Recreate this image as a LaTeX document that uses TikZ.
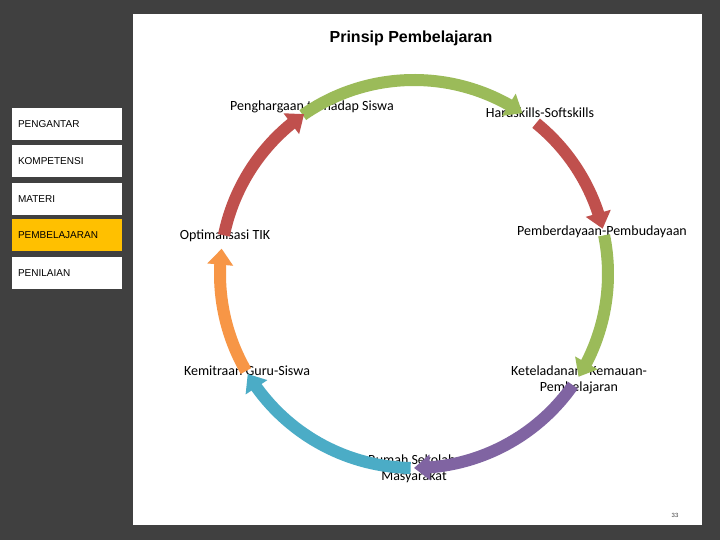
\documentclass[tikz,border=0pt]{standalone}
\usepackage{fontspec}
\setmainfont{Liberation Sans}
\newfontfamily\labelfont{Carlito}
\usetikzlibrary{arrows.meta,bending}
\definecolor{bgdark}{HTML}{404040}
\definecolor{cgreen}{HTML}{9BBB59}
\definecolor{cred}{HTML}{C0504D}
\definecolor{cpurple}{HTML}{8064A2}
\definecolor{cblue}{HTML}{4BACC6}
\definecolor{corange}{HTML}{F79646}
\definecolor{cyellow}{HTML}{FFC000}
\begin{document}
\begin{tikzpicture}[x=1pt, y=1pt,
    menubox/.style={fill=white, minimum height=32pt, text width=98pt, inner xsep=6pt, inner ysep=0pt, align=left, font=\fontsize{10}{11}\selectfont},
    steplabel/.style={font=\labelfont\fontsize{14}{15.5}\selectfont, align=center, inner sep=0pt},
    cyclearrow/.style={line width=12pt, -{Triangle[width=25pt, length=16pt, flex]}}]
    % slide background
    \fill[bgdark] (0,0) rectangle (720,540);
    \fill[white] (133,15) rectangle (702,526);
    \node[font=\bfseries\fontsize{16}{18}\selectfont, name=title] at (411,502) {Prinsip Pembelajaran};

    % menu on the left
    \node[menubox, name=pengantar] at (67,415.5) {PENGANTAR};
    \node[menubox, name=kompetensi] at (67,378.5) {KOMPETENSI};
    \node[menubox, name=materi] at (67,341) {MATERI};
    \node[menubox, fill=cyellow, name=pembelajaran] at (67,304.5) {PEMBELAJARAN};
    \node[menubox, name=penilaian] at (67,267) {PENILAIAN};

    % labels of the cycle
    \node[steplabel, name=pengh] at (312,433) {Penghargaan terhadap Siswa};
    \node[steplabel, name=hard] at (540,427) {Hardskills-Softskills};
    \node[steplabel, name=pember] at (602,308) {Pemberdayaan-Pembudayaan};
    \node[steplabel, name=telad] at (579,160) {Keteladanan- Kemauan-\\Pembelajaran};
    \node[steplabel, name=rumah] at (414,71) {Rumah Sekolah-\\Masyarakat};
    \node[steplabel, name=kemitra] at (247,169) {Kemitraan Guru-Siswa};
    \node[steplabel, name=optim] at (225,304) {Optimalisasi TIK};

    % cycle arrows
    \coordinate (c) at (414,266);
    \foreach \from/\to/\col in {125/56/cgreen, 51/13.5/cred, 11.5/-32/cgreen, -35/-90/cpurple,
        -91/-149/cblue, -150/-187.5/corange, 168.5/124.5/cred}
        \draw[cyclearrow, draw=\col] (c) ++(\from:194) arc[start angle=\from, end angle=\to, radius=194];

    \node[font=\fontsize{6}{7}\selectfont, text=darkgray, name=pagenum] at (675,25) {33};
\end{tikzpicture}
\end{document}
